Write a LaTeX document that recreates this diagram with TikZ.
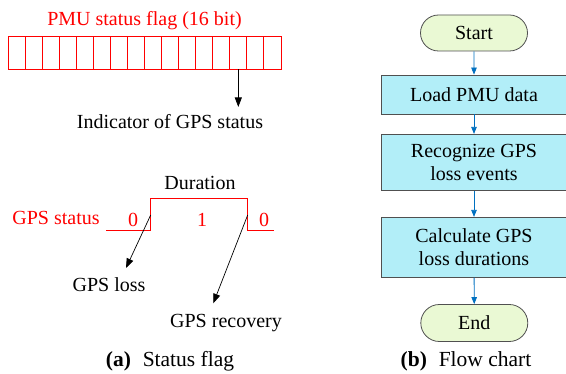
\documentclass[tikz,border=0pt]{standalone}
\usepackage{fontspec}
\setmainfont{Liberation Serif}
\usetikzlibrary{arrows.meta,shapes.misc,calc}

\definecolor{boxcyan}{RGB}{178,238,248}
\definecolor{termgreen}{RGB}{234,249,212}
\definecolor{flowblue}{RGB}{0,112,192}
\definecolor{edgegray}{RGB}{80,80,80}

\tikzset{
  txt/.style={font=\fontsize{20}{23.5}\selectfont, inner sep=0pt},
  captxt/.style={font=\fontsize{21.5}{25}\selectfont, inner sep=0pt, anchor=base},
  cell/.style={draw=red, line width=0.9pt, minimum width=17.06pt, minimum height=33pt, inner sep=0pt},
  arr/.style={line width=0.7pt, -{Triangle[length=9.5pt,width=7pt]}},
  flowarr/.style={flowblue, line width=0.8pt, -{Triangle[length=7pt,width=5.5pt]}},
  procbox/.style={txt, draw=edgegray, line width=0.8pt, fill=boxcyan, minimum width=186pt, align=center},
  term/.style={txt, draw=edgegray, line width=0.8pt, fill=termgreen, rounded rectangle, minimum width=107pt, minimum height=36pt}
}

\begin{document}
\begin{tikzpicture}[x=1pt, y=-1pt]
    \useasboundingbox (0,0) rectangle (566,374);

    % Status flag register
    \node[txt, red, anchor=base] (flagtitle) at (144.5,26) {PMU status flag (16 bit)};
    \foreach \i in {1,...,16}
        \node[cell] (c\i) at ({8+17.06*(\i-0.5)},52.5) {};
    \node[txt, anchor=base] (ind) at (170,129) {Indicator of GPS status};
    \coordinate (indtip) at (c14.south |- 0,107);
    \draw[arr] (c14.south) -- (indtip);

    % GPS status pulse
    \node[txt, anchor=base] (dur) at (200,189.3) {Duration};
    \node[txt, red, anchor=base] (gpsstat) at (56,225) {GPS status};
    \draw[red, line width=0.9pt] (106,230.7) -- (150.7,230.7) -- (150.7,198.3)
        -- (247.7,198.3) -- (247.7,230.7) -- (274.3,230.7);
    \node[txt, red, anchor=base] (v0a) at (133,227) {0};
    \node[txt, red, anchor=base] (v1) at (202,227) {1};
    \node[txt, red, anchor=base] (v0b) at (264,227) {0};

    % Loss and recovery edges
    \coordinate (rise) at (150.7,215);
    \coordinate (fall) at (247.7,215);
    \coordinate (losstip) at (126,268);
    \coordinate (rectip) at (213.3,303.3);
    \node[txt, anchor=base] (loss) at (109,291.7) {GPS loss};
    \node[txt, anchor=base] (rec) at (226,328) {GPS recovery};
    \draw[arr] (rise) -- (losstip);
    \draw[arr] (fall) -- (rectip);

    \node[captxt] (capa) at (170,367) {\textbf{(a)}\hspace{0.55em}Status flag};

    % Flow chart
    \node[term] (start) at (474,33) {Start};
    \node[procbox, minimum height=39pt] (load) at (474,94.5) {Load PMU data};
    \node[procbox, minimum height=56.4pt] (recog) at (474,162.5) {Recognize GPS\\loss events};
    \node[procbox, minimum height=60pt] (calc) at (474,247.3) {Calculate GPS\\loss durations};
    \node[term, minimum height=37pt] (stop) at (474.3,323) {End};
    \draw[flowarr] (start) -- (load);
    \draw[flowarr] (load) -- (recog);
    \draw[flowarr] (recog) -- (calc);
    \draw[flowarr] (calc) -- (stop);

    \node[captxt] (capb) at (466,367) {\textbf{(b)}\hspace{0.55em}Flow chart};
\end{tikzpicture}
\end{document}
